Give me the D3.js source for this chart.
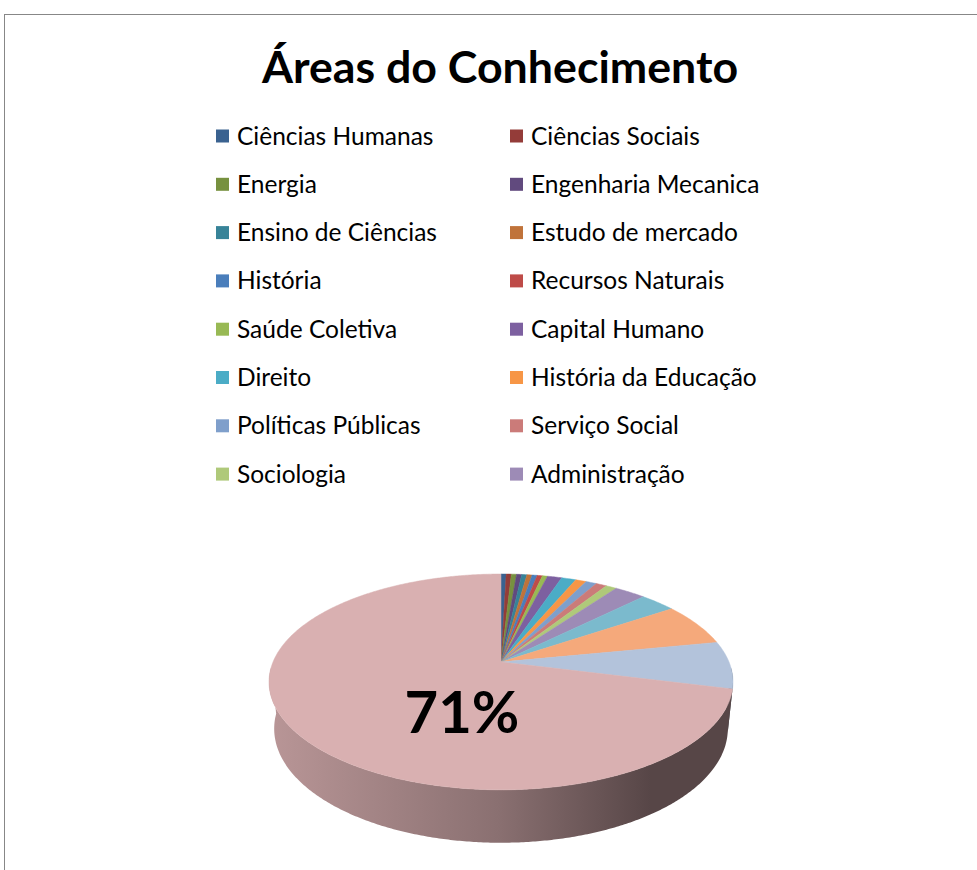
<!DOCTYPE html>
<html>
<head>
<meta charset="utf-8">
<script src="https://cdn.jsdelivr.net/npm/d3@7"></script>
<style>
body { margin: 0; background: #fff; }
svg { display: block; }
</style>
</head>
<body>
<div id="chart"></div>
<script>
// data (percent of total), clockwise from 12 o'clock
const categories = [
	'Ciências Humanas', 'Ciências Sociais', 'Energia', 'Engenharia Mecanica',
	'Ensino de Ciências', 'Estudo de mercado', 'História', 'Recursos Naturais',
	'Saúde Coletiva', 'Capital Humano', 'Direito', 'História da Educação',
	'Políticas Públicas', 'Serviço Social', 'Sociologia', 'Administração',
	// not shown in the (truncated) legend
	'Série 17', 'Série 18', 'Série 19', 'Série 20'
];
const values = [
	0.43, 0.43, 0.43, 0.43, 0.43, 0.43, 0.43, 0.43, 0.43,
	1.2, 1.2, 0.9, 0.9, 0.9, 0.9,
	2.6, 3.0, 6.4, 7.1, 71
];
const colors = [
	'#3a6290', '#943c39', '#77913f', '#614a7e', '#378398', '#c0733a',
	'#4a7ebb', '#be4b48', '#98b954', '#7d60a0', '#4bacc6', '#f79646',
	'#7f9fcb', '#cb7b79', '#afc97a', '#9d8bb6',
	'#7bbacd', '#f5a97b', '#b3c3db', '#d9b0b1'
];
const legendCount = 16;
const chartTitle = 'Áreas do Conhecimento';

const width = 977;
const height = 870;

const svg = d3.select('#chart')
	.append('svg')
	.attr('width', width)
	.attr('height', height);

const defs = svg.append('defs');

// chart area border
svg.append('rect')
	.attr('x', 4.5).attr('y', 14.5)
	.attr('width', width + 20).attr('height', height + 20)
	.attr('fill', '#fff')
	.attr('stroke', '#878787');

svg.append('text')
	.attr('x', 500).attr('y', 83)
	.attr('text-anchor', 'middle')
	.attr('font-family', 'Lato, sans-serif')
	.attr('font-weight', 'bold')
	.attr('font-size', 44.7)
	.text(chartTitle);

// legend, two columns
const legend = svg.append('g')
	.attr('font-family', 'Lato, sans-serif')
	.attr('font-size', 24.5)
	.selectAll('g')
	.data(categories.slice(0, legendCount))
	.join('g')
	.attr('transform', (d, i) => `translate(${i % 2 ? 510 : 216},${136 + Math.floor(i / 2) * 48.3})`);

legend.append('rect')
	.attr('y', -6.5)
	.attr('width', 13).attr('height', 13)
	.attr('fill', (d, i) => colors[i]);

legend.append('text')
	.attr('x', 21)
	.attr('dy', '0.35em')
	.text(d => d);

// 3d pie: perspective projection of a tilted cylinder
const R = 228, cx = 501, cy = 662, depth = 53;
const phi = 27.2 * Math.PI / 180;
const D = 1098;

function project(theta, r, z) {
	const x = r * Math.sin(theta), y = r * Math.cos(theta);
	const v = y * Math.sin(phi) + z * Math.cos(phi);
	const d = -y * Math.cos(phi) + z * Math.sin(phi);
	const s = D / (D - d);
	return [cx + x * s, cy - v * s];
}

const pie = d3.pie().sort(null).value(d => d)(values);
const step = Math.PI / 360;

function arcPoints(a0, a1, z) {
	const n = Math.max(2, Math.ceil((a1 - a0) / step));
	return d3.range(n + 1).map(i => project(a0 + (a1 - a0) * i / n, R, z));
}

// front-facing part of each slice's outer wall (angles between 90deg and 270deg)
const lo = Math.PI / 2 + 0.05, hi = 3 * Math.PI / 2 - 0.05;
const walls = pie.map((p, i) => ({
	i,
	a0: Math.max(p.startAngle, lo),
	a1: Math.min(p.endAngle, hi)
})).filter(w => w.a1 > w.a0);

// horizontal shading: light on the left, dark from the right-centre on
const shade = [[0, 0.45], [0.6, 1.27], [1, 2.57]];
walls.forEach(w => {
	defs.append('linearGradient')
		.attr('id', 'wall' + w.i)
		.attr('gradientUnits', 'userSpaceOnUse')
		.attr('x1', cx - 232).attr('x2', cx + 150)
		.attr('y1', 0).attr('y2', 0)
		.selectAll('stop')
		.data(shade)
		.join('stop')
		.attr('offset', s => s[0])
		.attr('stop-color', s => d3.color(colors[w.i]).darker(s[1]).formatHex());
});

const line = d3.line();
svg.append('g')
	.selectAll('path')
	.data(walls)
	.join('path')
	.attr('d', w => line(arcPoints(w.a0, w.a1, 0).concat(arcPoints(w.a0, w.a1, -depth).reverse())) + 'Z')
	.attr('fill', w => `url(#wall${w.i})`);

// top faces
svg.append('g')
	.selectAll('path')
	.data(pie)
	.join('path')
	.attr('d', p => line([project(0, 0, 0)].concat(arcPoints(p.startAngle, p.endAngle, 0))) + 'Z')
	.attr('fill', (p, i) => colors[i])
	.attr('stroke', (p, i) => colors[i])
	.attr('stroke-width', 0.5);

// data label on the largest slice
const big = pie[pie.length - 1];
const total = d3.sum(values);
svg.append('text')
	.attr('x', cx - 39).attr('y', cy + 50)
	.attr('text-anchor', 'middle')
	.attr('dy', '0.36em')
	.attr('font-family', 'Lato, sans-serif')
	.attr('font-weight', 'bold')
	.attr('font-size', 58)
	.text(Math.round(big.value / total * 100) + '%');
</script>
</body>
</html>
